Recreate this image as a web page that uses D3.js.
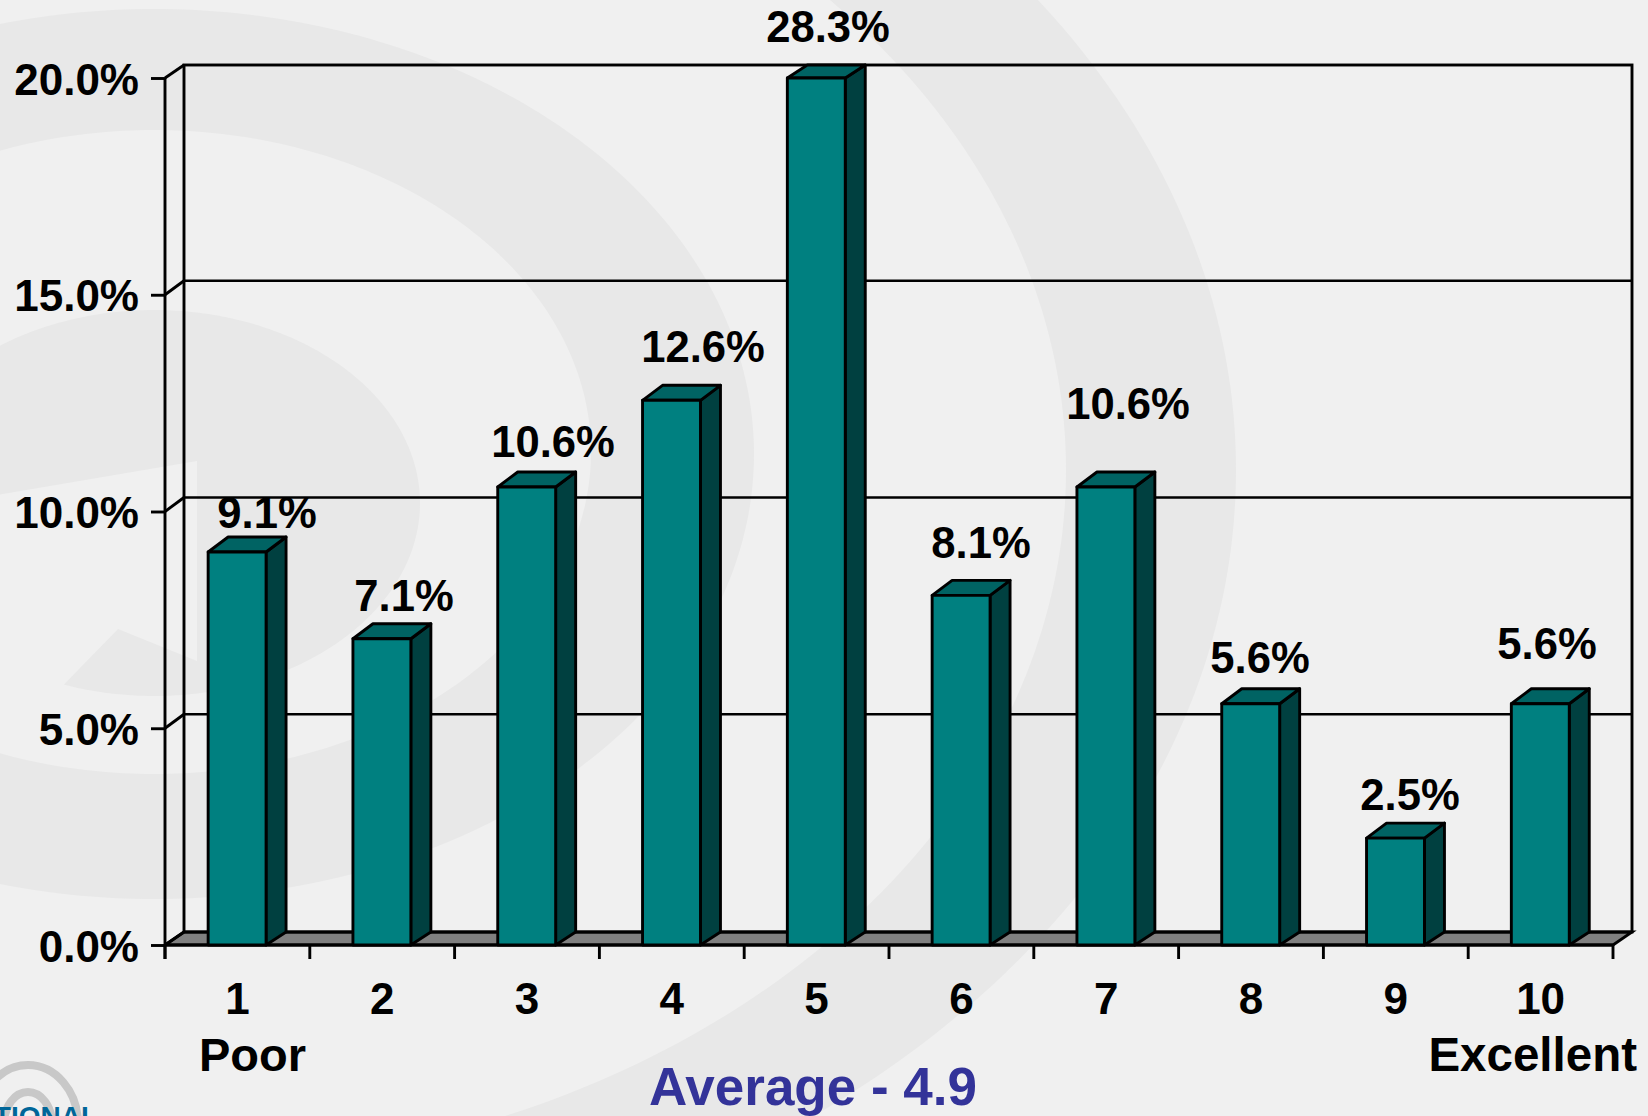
<!DOCTYPE html>
<html>
<head>
<meta charset="utf-8">
<script src="https://cdn.jsdelivr.net/npm/d3@7"></script>
<style>
html,body{margin:0;padding:0;background:#f0f0f0;overflow:hidden}
svg{display:block}
text{font-family:"Liberation Sans",Arial,sans-serif;font-weight:bold;fill:#000}
</style>
</head>
<body>
<svg id="c" width="1648" height="1116"></svg>
<script>
// ---- data ----
const categories = ["1","2","3","4","5","6","7","8","9","10"];
const values = [9.1,7.1,10.6,12.6,28.3,8.1,10.6,5.6,2.5,5.6];
const yTicks = [0,5,10,15,20];
const lowLabel = "Poor", highLabel = "Excellent", caption = "Average - 4.9";

// ---- hand placement of the value labels, as in the reference ----
const labelDx = [29.6,21.8,26,31.2,11.4,19.6,21.8,9,14.2,6.4];
const labelDy = [-22.5,-26,-28.5,-37,-36,-36,-66.5,-29,-27,-43];

const W=1648,H=1116;
const m={l:165,r:1613,t:78,b:945}, dX=19, dY=13, barDX=20, barDY=15, sw=2.9, topNudge=1.5;
const svg=d3.select("#c");

// ---- background watermark ----
const bg=svg.append("g").attr("fill","#e8e8e8");
const ell=(cx,cy,rx,ry,a0,a1)=>d3.range(0,361).map(i=>{const a=a0+(a1-a0)*i/360;return [cx+rx*Math.cos(a),cy+ry*Math.sin(a)];});
const ring=(cx,cy,rx0,ry0,cx1,cy1,rx1,ry1)=>"M"+ell(cx,cy,rx0,ry0,0,2*Math.PI).join("L")+"Z M"+ell(cx1,cy1,rx1,ry1,0,2*Math.PI).join("L")+"Z";
bg.append("path").attr("fill-rule","evenodd").attr("d",ring(154,454,600,445,154,452,437,322));
const blob=ell(154,503,266,193,-Math.PI*0.75,Math.PI*0.61);
bg.append("path").attr("d","M-20,352L"+blob.join("L")+"L118,629L197,661L197,461L-20,498Z");
bg.append("path").attr("fill-rule","evenodd").attr("d",ring(154,470,1082,815,154,470,912,700));

// logo fragment
const logo=svg.append("g");
logo.selectAll("ellipse").data([[50,59],[24,32]]).join("ellipse")
  .attr("cx",28).attr("cy",1124).attr("rx",d=>d[0]).attr("ry",d=>d[1])
  .attr("fill","none").attr("stroke","#c8c8c8").attr("stroke-width",8);
logo.append("text").attr("x",98).attr("y",1126).attr("text-anchor","end")
  .attr("font-size",28).style("fill","#006699").text("TIONAL");

// ---- scales ----
const x=d3.scaleBand().domain(categories).range([m.l,m.r]).paddingInner(0.6).paddingOuter(0.3);
const y=d3.scaleLinear().domain([0,20]).range([m.b,m.t]).clamp(true);

// ---- walls and floor ----
const walls=svg.append("g").attr("stroke","#000").attr("fill","none");
walls.append("polygon").attr("fill","#808080").attr("stroke-width",sw)
  .attr("points",[[m.l,m.b],[m.l+dX,m.b-dY],[m.r+dX,m.b-dY],[m.r,m.b]].join(" "));
walls.append("rect").attr("x",m.l+dX).attr("y",m.t-dY).attr("width",m.r-m.l).attr("height",m.b-m.t).attr("stroke-width",sw);
walls.selectAll("line.grid").data(yTicks.slice(1,-1)).join("line").attr("class","grid")
  .attr("x1",m.l+dX).attr("x2",m.r+dX).attr("y1",d=>y(d)-dY-1).attr("y2",d=>y(d)-dY-1).attr("stroke-width",2.5);
walls.selectAll("line.diag").data(yTicks).join("line").attr("class","diag")
  .attr("x1",m.l).attr("x2",m.l+dX).attr("y1",d=>y(d)).attr("y2",d=>y(d)-dY-(d%20?1:0)).attr("stroke-width",sw);

// ---- axes ----
const yAxis=svg.append("g").attr("transform",`translate(${m.l},0)`)
  .call(d3.axisLeft(y).tickValues(yTicks).tickSize(14).tickPadding(12).tickFormat(d=>d.toFixed(1)+"%"));
yAxis.select(".domain").remove();
yAxis.selectAll("line").attr("stroke","#000").attr("stroke-width",sw);
yAxis.selectAll("text").attr("dy",null).attr("y",16).attr("font-size",44).attr("font-family",null);
svg.append("line").attr("x1",m.l).attr("x2",m.l).attr("y1",m.t).attr("y2",m.b+14).attr("stroke","#000").attr("stroke-width",sw);

const xAxis=svg.append("g").attr("transform",`translate(0,${m.b})`)
  .call(d3.axisBottom(x).tickSize(0).tickPadding(0));
xAxis.select(".domain").remove();
xAxis.selectAll("text").attr("dy",null).attr("y",69).attr("font-size",44).attr("font-family",null);
const edges=d3.range(categories.length+1).map(i=>m.l+i*x.step());
svg.append("g").selectAll("line").data(edges).join("line")
  .attr("x1",d=>d).attr("x2",d=>d).attr("y1",m.b).attr("y2",m.b+14).attr("stroke","#000").attr("stroke-width",sw);
svg.append("line").attr("x1",m.l).attr("x2",m.r).attr("y1",m.b).attr("y2",m.b).attr("stroke","#000").attr("stroke-width",sw);

// ---- 3D bars ----
const rows=categories.map((c,i)=>({c,v:values[i],dx:labelDx[i],dy:labelDy[i]}));
const bars=svg.append("g").attr("stroke","#000").attr("stroke-width",sw).attr("stroke-linejoin","round")
  .selectAll("g").data(rows).join("g");
const bx=d=>x(d.c)-0.3, bw=x.bandwidth();
const by=d=>y(d.v)+(d.v<20?topNudge:0);
const bdy=d=>d.v<20?barDY:dY;
bars.append("polygon").attr("fill","#004040")
  .attr("points",d=>[[bx(d)+bw,by(d)],[bx(d)+bw+barDX,by(d)-bdy(d)],[bx(d)+bw+barDX,m.b-dY],[bx(d)+bw,m.b]].join(" "));
bars.append("polygon").attr("fill","#006363")
  .attr("points",d=>[[bx(d),by(d)],[bx(d)+barDX,by(d)-bdy(d)],[bx(d)+bw+barDX,by(d)-bdy(d)],[bx(d)+bw,by(d)]].join(" "));
bars.append("rect").attr("fill","#008080")
  .attr("x",bx).attr("y",by).attr("width",bw).attr("height",d=>m.b-by(d));

// ---- labels ----
svg.append("g").selectAll("text").data(rows).join("text")
  .attr("x",d=>x(d.c)+x.bandwidth()/2+d.dx).attr("y",d=>y(d.v)+d.dy)
  .attr("text-anchor","middle").attr("font-size",43.6).text(d=>d.v.toFixed(1)+"%");
svg.append("text").attr("x",199).attr("y",1071).attr("font-size",47).text(lowLabel);
svg.append("text").attr("x",1637).attr("y",1071).attr("text-anchor","end").attr("font-size",47.5).text(highLabel);
svg.append("text").attr("x",813).attr("y",1105).attr("text-anchor","middle").attr("font-size",53).style("fill","#333399").text(caption);
</script>
</body>
</html>
